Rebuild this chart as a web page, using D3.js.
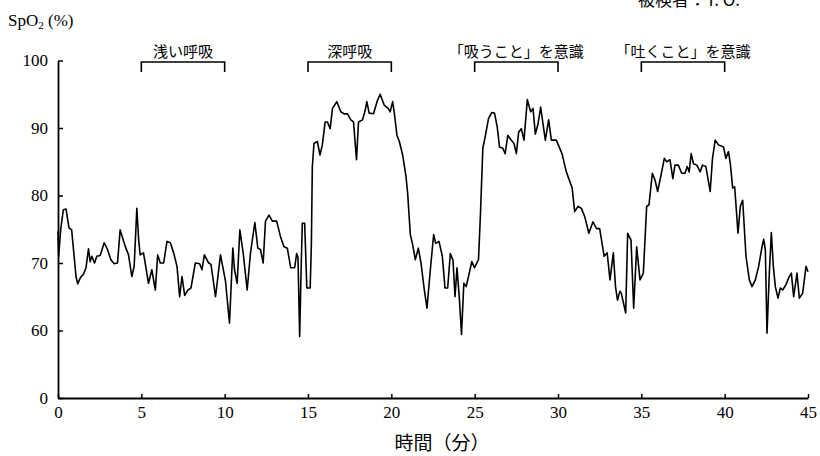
<!DOCTYPE html>
<html>
<head>
<meta charset="utf-8">
<script src="https://cdn.jsdelivr.net/npm/d3@7"></script>
<style>
  body { margin: 0; background: #fff; }
  svg { display: block; }
  .tick text { font-family: "Liberation Serif", "DejaVu Serif", serif; font-size: 17px; fill: #000; }
  .jp { font-family: "Noto Sans CJK JP", sans-serif; fill: #000; }
</style>
</head>
<body>
<svg id="chart" width="820" height="456"></svg>
<script>
// time (minutes) and SpO2 (%)
var minutes = [0,0.04,0.16,0.32,0.48,0.66,0.82,1.08,1.18,1.36,1.52,1.68,1.83,1.93,2.03,2.19,2.33,2.53,2.77,2.97,
  3.17,3.37,3.57,3.73,4.03,4.23,4.43,4.57,4.73,4.84,4.93,5.13,5.43,5.63,5.84,5.98,6.14,6.34,6.54,6.74,
  6.94,7.14,7.3,7.44,7.6,7.8,7.98,8.24,8.5,8.64,8.78,9.04,9.18,9.45,9.75,10.05,10.29,10.49,10.59,10.75,
  10.91,11.11,11.35,11.55,11.81,11.99,12.15,12.31,12.45,12.66,12.86,13.12,13.36,13.56,13.76,13.96,14.2,14.32,14.4,14.5,
  14.6,14.66,14.8,14.93,15.13,15.2,15.26,15.36,15.56,15.72,15.86,16.03,16.17,16.33,16.47,16.73,16.97,17.17,17.37,17.57,
  17.73,17.91,18.03,18.27,18.41,18.53,18.67,18.93,19.17,19.33,19.57,19.81,19.93,20.08,20.18,20.34,20.48,20.68,20.88,20.98,
  21.14,21.28,21.44,21.62,21.78,21.98,22.14,22.34,22.54,22.66,22.86,23.06,23.22,23.38,23.54,23.7,23.82,23.94,24.08,24.21,
  24.35,24.49,24.63,24.83,24.99,25.23,25.35,25.49,25.63,25.83,26.03,26.19,26.35,26.49,26.69,26.83,26.99,27.2,27.36,27.5,
  27.64,27.8,27.96,28.16,28.36,28.5,28.64,28.8,28.96,29.1,29.24,29.44,29.6,29.9,30.24,30.5,30.85,31.0,31.2,31.4,
  31.6,31.85,32.1,32.31,32.5,32.77,32.95,33.12,33.32,33.45,33.57,33.71,33.8,34.06,34.18,34.38,34.54,34.72,34.92,35.12,
  35.32,35.46,35.66,35.82,35.98,36.18,36.38,36.52,36.72,36.89,37.02,37.22,37.42,37.62,37.75,37.87,37.99,38.13,38.33,38.53,
  38.67,38.87,39.13,39.27,39.43,39.63,39.93,40.07,40.23,40.34,40.48,40.6,40.8,40.94,41.08,41.28,41.48,41.64,41.84,42.04,
  42.24,42.34,42.44,42.54,42.68,42.8,42.92,43.04,43.2,43.34,43.48,43.68,43.84,44.0,44.14,44.34,44.48,44.68,44.88,45.0]
var spo2 = [74.7,71.0,74.9,77.9,78,75.2,74.9,68,66.9,67.9,68.3,69.3,72.1,70.2,71,70,71,71.1,73,72,
  70.5,69.9,70,74.9,72.5,71.2,68,69.5,78.1,73.4,71.2,71.5,67,69,66,71.2,70,70,73.2,73,
  71.5,69.5,65,68,65.2,66,66.3,70,69.9,69,71.2,70,69.8,65,71.2,67.3,61.1,72.2,69,67,
  74.9,71.5,66,71.5,76,72.2,72,70,76.2,77.1,76.2,76.2,73.8,72.4,72.2,69.3,69.3,71.4,70.8,59.1,
  70.4,75.9,75.9,66.3,66.3,72.4,84.3,87.7,88,86,87.5,90.9,90.9,89.9,92.9,93.9,92.4,92.1,92.1,91.2,
  90.9,85.3,90.9,91.2,92.4,93.9,92.2,92.1,94.1,95,93.4,92.9,92.4,93.9,92.2,88.9,88,86,82.8,80.3,
  74.2,72.7,70.5,72.2,70,66,63.3,69,74.2,72.9,73.2,71,66.3,66.3,71.4,70.4,65,69.3,64.8,59.4,
  67,66.5,68,70.2,69.3,70.5,77.4,87,88.7,91.4,92.3,92.2,90.2,87.2,87,86.2,88.9,88.2,87.7,86.2,
  89.4,89.9,88.2,94.2,92.4,92.9,89.1,90.6,93.1,90.6,88.2,91.2,88.2,88.2,86.2,83.5,81.1,77.6,78.4,78.1,
  76.9,74.4,76.1,75.1,75.1,71,71.5,67.5,71.5,66.5,64.5,65.8,65.5,62.6,74.4,73.4,63.3,72.4,67.5,68.5,
  78.4,78.6,83.3,82.3,80.6,83,85.5,85,85.3,82.5,84.5,84.5,83.3,83.3,84.3,83.5,86.2,84.7,84.5,83.5,
  84.5,84.3,80.6,85.5,88.2,87.5,87.2,85.5,86.5,84.7,81.1,81.3,74.4,78.4,79.3,71,67.5,66.5,67.5,69.5,
  72.4,73.5,72,59.6,68.5,74.5,69.5,66.5,64.8,66.3,66,66.8,67.8,68.5,65,68.5,64.8,65.5,69.5,68.7]

// the axis is broken: the bottom "0" sits where 50 would be
var y_ticks = [50, 60, 70, 80, 90, 100]
var y_tick_labels = ["0", "60", "70", "80", "90", "100"]
var x_ticks = [0, 5, 10, 15, 20, 25, 30, 35, 40, 45]

var phase_start = [5, 15, 25, 35]
var phase_end = [10, 20, 30, 40]
var phase_labels = ["浅い呼吸", "深呼吸", "「吸うこと」を意識", "「吐くこと」を意識"]

var svg = d3.select("#chart")

var x = d3.scaleLinear().domain([0, 45]).range([58, 808])
var y = d3.scaleLinear().domain([50, 100]).range([398, 60.5])

// y axis, ticks pointing inward
var y_axis = d3.axisLeft(y)
  .tickValues(y_ticks)
  .tickFormat(function(d, i) { return y_tick_labels[i] })
  .tickSizeInner(-5)
  .tickSizeOuter(0)
  .tickPadding(10)

svg.append("g")
  .attr("transform", "translate(58,0)")
  .call(y_axis)

var x_axis = d3.axisBottom(x)
  .tickValues(x_ticks)
  .tickSizeInner(-4)
  .tickSizeOuter(0)
  .tickPadding(8)

svg.append("g")
  .attr("transform", "translate(0,398)")
  .call(x_axis)

svg.selectAll(".domain").attr("stroke", "#000").attr("stroke-width", 1.8)
svg.selectAll(".tick line").attr("stroke", "#000").attr("stroke-width", 1.5)

// SpO2 trace
var pts = minutes.map(function(m, i) { return [m, spo2[i]] })
var line = d3.line()
  .x(function(d) { return x(d[0]) })
  .y(function(d) { return y(d[1]) })

svg.append("path")
  .datum(pts)
  .attr("d", line)
  .attr("fill", "none")
  .attr("stroke", "#000")
  .attr("stroke-width", 1.6)
  .attr("stroke-linejoin", "round")

// phase brackets with their labels
phase_start.forEach(function(s, i) {
  var x0 = x(s), x1 = x(phase_end[i])
  svg.append("path")
    .attr("d", "M" + x0 + ",72V62H" + x1 + "V72")
    .attr("fill", "none")
    .attr("stroke", "#000")
    .attr("stroke-width", 1.6)
  svg.append("text")
    .attr("class", "jp")
    .attr("x", (x0 + x1) / 2)
    .attr("y", 57)
    .attr("text-anchor", "middle")
    .attr("font-size", 15)
    .text(phase_labels[i])
})

// y label SpO2 (%)
var ylab = svg.append("text")
  .attr("x", 8)
  .attr("y", 26)
  .attr("font-family", "Liberation Serif, serif")
  .attr("font-size", 17)
ylab.append("tspan").text("SpO")
ylab.append("tspan").attr("font-size", 11).attr("dy", 3).text("2")
ylab.append("tspan").attr("dy", -3).text(" (%)")

// x label
svg.append("text")
  .attr("class", "jp")
  .attr("x", 442)
  .attr("y", 450)
  .attr("text-anchor", "middle")
  .attr("font-size", 19)
  .text("時間（分）")

// subject caption, cut by the top edge as in the scan
svg.append("text")
  .attr("class", "jp")
  .attr("x", 638)
  .attr("y", 6)
  .attr("font-size", 17)
  .text("被検者：T. O.")
</script>
</body>
</html>
